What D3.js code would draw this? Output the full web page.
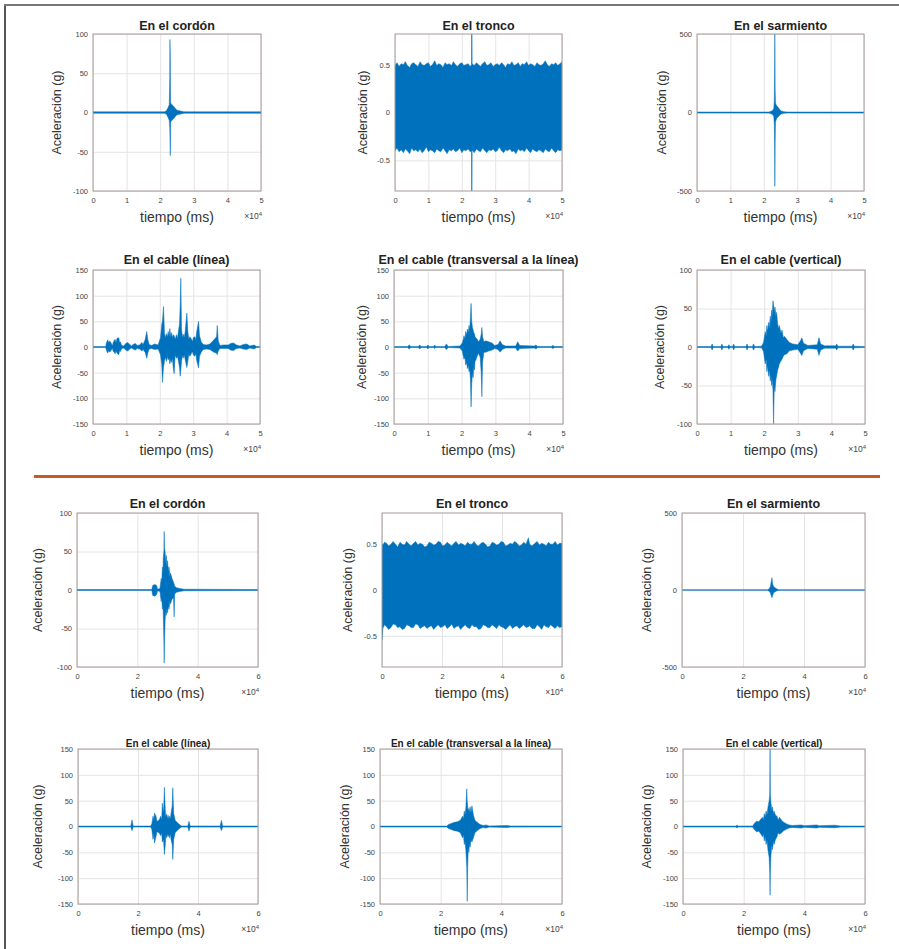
<!DOCTYPE html>
<html><head><meta charset="utf-8">
<script src="https://cdn.jsdelivr.net/npm/d3@7"></script>
<style>body{margin:0;background:#fff}svg{display:block}</style>
</head><body>
<svg id="c" width="899" height="949"></svg>
<script>
// ---------- DATA (envelopes [t(x1e4 ms), max g, min g]) ----------
const titles = ["En el cordón","En el tronco","En el sarmiento",
  "En el cable (línea)","En el cable (transversal a la línea)","En el cable (vertical)",
  "En el cordón","En el tronco","En el sarmiento",
  "En el cable (línea)","En el cable (transversal a la línea)","En el cable (vertical)"];
const xLabel = "tiempo (ms)";
const yLabel = "Aceleración (g)";
const xTicks5 = [0,1,2,3,4,5];
const xTicks6 = [0,2,4,6];
const yTicks100 = [-100,-50,0,50,100];
const yTicks150 = [-150,-100,-50,0,50,100,150];
const yTicks500 = [-500,0,500];
const yTicksTr = [-0.5,0,0.5];

const envCordon1 = [[0,0.8,-0.8],[2.12,0.8,-0.8],[2.18,2,-2],[2.22,5,-5],[2.25,8,-8],[2.27,10,-10],[2.285,45,-20],[2.29,93,-30],[2.3,70,-55],[2.305,30,-45],[2.31,12,-12],[2.35,10,-10],[2.4,8,-8],[2.45,5,-5],[2.5,3,-3],[2.6,2,-2],[2.7,1,-1],[2.8,0.8,-0.8],[5,0.8,-0.8]];
const envTronco1 = [[0,0.49,-0.40],[0.06,0.52,-0.37],[0.12,0.48,-0.41],[0.19,0.51,-0.39],[0.25,0.50,-0.42],[0.31,0.53,-0.38],[0.37,0.49,-0.40],[0.44,0.47,-0.43],[0.5,0.51,-0.37],[0.56,0.52,-0.40],[0.62,0.50,-0.39],[0.69,0.48,-0.41],[0.75,0.53,-0.38],[0.81,0.50,-0.42],[0.87,0.49,-0.40],[0.94,0.51,-0.36],[1.0,0.52,-0.41],[1.06,0.48,-0.39],[1.12,0.50,-0.40],[1.19,0.54,-0.42],[1.25,0.49,-0.38],[1.31,0.51,-0.40],[1.37,0.50,-0.41],[1.44,0.47,-0.37],[1.5,0.52,-0.40],[1.56,0.50,-0.43],[1.62,0.51,-0.39],[1.69,0.49,-0.40],[1.75,0.53,-0.38],[1.81,0.50,-0.41],[1.87,0.48,-0.40],[1.94,0.51,-0.37],[2.0,0.52,-0.42],[2.06,0.49,-0.39],[2.12,0.50,-0.40],[2.19,0.51,-0.38],[2.25,0.48,-0.41],[2.29,0.50,-0.40],[2.295,0.9,-0.9],[2.305,0.9,-0.9],[2.31,0.51,-0.39],[2.37,0.49,-0.42],[2.44,0.52,-0.38],[2.5,0.50,-0.40],[2.56,0.48,-0.41],[2.62,0.51,-0.37],[2.69,0.53,-0.40],[2.75,0.49,-0.42],[2.81,0.50,-0.39],[2.87,0.52,-0.40],[2.94,0.48,-0.38],[3.0,0.50,-0.41],[3.06,0.51,-0.40],[3.12,0.49,-0.36],[3.19,0.52,-0.40],[3.25,0.50,-0.42],[3.31,0.47,-0.39],[3.37,0.51,-0.40],[3.44,0.50,-0.38],[3.5,0.53,-0.41],[3.56,0.49,-0.40],[3.62,0.50,-0.43],[3.69,0.52,-0.38],[3.75,0.48,-0.40],[3.81,0.51,-0.39],[3.87,0.50,-0.41],[3.94,0.53,-0.37],[4.0,0.49,-0.40],[4.06,0.51,-0.42],[4.12,0.50,-0.38],[4.19,0.48,-0.40],[4.25,0.52,-0.41],[4.31,0.50,-0.39],[4.37,0.49,-0.40],[4.44,0.51,-0.42],[4.5,0.54,-0.38],[4.56,0.50,-0.40],[4.62,0.48,-0.41],[4.69,0.51,-0.37],[4.75,0.50,-0.40],[4.81,0.52,-0.42],[4.87,0.49,-0.39],[4.94,0.51,-0.40],[5.0,0.53,-0.39]];
const envSarm1 = [[0,3,-3],[2.15,3,-3],[2.22,8,-8],[2.27,15,-15],[2.3,25,-25],[2.315,80,-80],[2.325,300,-250],[2.33,520,-470],[2.335,400,-400],[2.34,150,-200],[2.35,60,-60],[2.38,45,-40],[2.42,35,-30],[2.47,20,-18],[2.52,10,-10],[2.6,5,-5],[2.7,3,-3],[5,3,-3]];
const envCableL1 = [[0,0.8,-0.8],[0.38,0.8,-0.8],[0.4,8,-6],[0.44,14,-12],[0.47,8,-7],[0.5,12,-10],[0.55,7,-6],[0.58,2,-2],[0.6,8,-8],[0.63,12,-10],[0.66,15,-13],[0.69,9,-8],[0.72,17,-12],[0.77,18,-15],[0.8,9,-7],[0.82,10,-9],[0.86,3,-3],[0.92,2,-2],[0.98,7,-6],[1.04,9,-8],[1.1,5,-4],[1.15,2,-2],[1.2,5,-4],[1.27,7,-6],[1.32,3,-3],[1.4,4,-4],[1.46,9,-8],[1.5,5,-5],[1.56,14,-10],[1.61,30,-22],[1.64,15,-12],[1.68,5,-4],[1.75,3,-3],[1.85,6,-5],[1.95,4,-4],[2.02,18,-15],[2.06,45,-35],[2.08,50,-69],[2.11,79,-40],[2.14,28,-28],[2.17,18,-20],[2.2,26,-28],[2.23,20,-18],[2.25,30,-25],[2.28,22,-22],[2.3,36,-33],[2.33,20,-24],[2.35,28,-30],[2.38,18,-22],[2.4,24,-40],[2.43,22,-52],[2.46,15,-16],[2.5,24,-22],[2.53,16,-18],[2.55,28,-25],[2.59,45,-40],[2.61,80,-57],[2.63,134,-45],[2.65,35,-28],[2.68,18,-16],[2.7,25,-22],[2.73,18,-15],[2.76,30,-25],[2.81,66,-40],[2.84,30,-28],[2.87,15,-14],[2.9,20,-18],[2.95,15,-12],[2.98,10,-9],[3.0,18,-15],[3.05,20,-18],[3.08,14,-12],[3.1,28,-25],[3.16,50,-41],[3.19,22,-18],[3.24,10,-10],[3.3,5,-5],[3.4,4,-4],[3.5,6,-5],[3.62,14,-10],[3.7,20,-12],[3.72,42,-15],[3.75,12,-8],[3.8,3,-3],[3.9,4,-3],[4.05,4,-3],[4.12,7,-6],[4.2,8,-7],[4.3,4,-3],[4.4,2,-2],[4.5,5,-4],[4.6,6,-5],[4.7,2,-2],[4.82,4,-4],[4.9,1,-1],[5,0.8,-0.8]];
const envCableT1 = [[0,0.8,-0.8],[0.4,0.8,-0.8],[0.45,4,-4],[0.5,1,-1],[0.72,1,-1],[0.76,4,-4],[0.8,1,-1],[0.97,1,-1],[1.0,4,-4],[1.04,1,-1],[1.17,1,-1],[1.2,4,-3],[1.24,1,-1],[1.5,1,-1],[1.55,6,-5],[1.6,1,-1],[1.95,2,-2],[2.02,8,-8],[2.05,15,-18],[2.07,22,-24],[2.1,16,-20],[2.12,30,-35],[2.15,24,-30],[2.17,35,-42],[2.2,28,-36],[2.22,42,-48],[2.24,34,-44],[2.26,55,-62],[2.28,85,-117],[2.3,50,-72],[2.32,38,-52],[2.34,34,-60],[2.36,28,-40],[2.38,26,-45],[2.4,20,-28],[2.42,18,-26],[2.46,15,-18],[2.5,10,-12],[2.55,15,-20],[2.58,25,-50],[2.6,38,-97],[2.62,20,-30],[2.66,10,-10],[2.72,12,-10],[2.8,10,-8],[2.9,8,-6],[2.98,3,-3],[3.08,5,-5],[3.14,12,-10],[3.2,5,-5],[3.3,2,-2],[3.6,2,-2],[3.66,10,-8],[3.72,3,-3],[4.15,2,-2],[4.2,4,-4],[4.25,1,-1],[4.65,1,-1],[4.7,3,-3],[4.75,1,-1],[5,0.8,-0.8]];
const envCableV1 = [[0,0.6,-0.6],[0.42,0.6,-0.6],[0.45,4,-4],[0.48,0.6,-0.6],[0.71,0.6,-0.6],[0.74,4,-4],[0.77,0.6,-0.6],[0.92,0.6,-0.6],[0.95,3,-3],[0.98,0.6,-0.6],[1.06,0.6,-0.6],[1.09,4,-4],[1.12,0.6,-0.6],[1.46,0.6,-0.6],[1.49,4,-4],[1.52,0.6,-0.6],[1.65,0.6,-0.6],[1.68,4,-4],[1.72,0.6,-0.6],[1.92,1,-1],[1.98,6,-6],[2.03,20,-22],[2.06,14,-16],[2.08,28,-32],[2.1,20,-24],[2.13,32,-38],[2.15,24,-30],[2.18,40,-44],[2.2,30,-36],[2.22,48,-50],[2.24,40,-42],[2.26,60,-55],[2.28,55,-100],[2.3,45,-50],[2.32,52,-58],[2.35,40,-42],[2.37,45,-38],[2.4,30,-30],[2.43,24,-26],[2.45,28,-22],[2.5,18,-18],[2.53,22,-16],[2.57,12,-12],[2.6,14,-10],[2.67,10,-9],[2.75,6,-5],[2.85,4,-4],[3.0,3,-3],[3.08,8,-8],[3.12,12,-11],[3.17,5,-5],[3.3,2,-2],[3.58,3,-3],[3.63,12,-11],[3.68,4,-4],[3.8,1.5,-1.5],[4.13,1.5,-1.5],[4.16,4,-4],[4.19,1,-1],[4.62,1,-1],[4.65,4,-4],[4.68,1,-1],[5,0.6,-0.6]];
const envCordon2 = [[0,0.6,-0.6],[2.48,0.6,-0.6],[2.51,6,-7],[2.58,7,-8],[2.64,6,-6],[2.67,1,-1],[2.75,2,-2],[2.79,15,-15],[2.81,10,-10],[2.83,30,-25],[2.85,22,-20],[2.86,42,-32],[2.88,50,-67],[2.89,76,-95],[2.9,55,-70],[2.92,50,-40],[2.94,35,-28],[2.96,45,-33],[2.98,30,-24],[3.0,38,-30],[3.03,24,-20],[3.05,30,-25],[3.08,18,-15],[3.1,22,-18],[3.15,15,-12],[3.2,10,-10],[3.22,8,-35],[3.24,5,-5],[3.3,3,-3],[3.4,2,-2],[3.55,1,-1],[6,0.6,-0.6]];
const envTronco2 = [[0,0.50,-0.55],[0.03,0.49,-0.42],[0.08,0.52,-0.38],[0.15,0.51,-0.40],[0.22,0.48,-0.43],[0.3,0.50,-0.41],[0.37,0.53,-0.37],[0.45,0.50,-0.38],[0.52,0.47,-0.41],[0.6,0.52,-0.40],[0.67,0.50,-0.43],[0.75,0.49,-0.42],[0.82,0.53,-0.38],[0.9,0.50,-0.39],[0.97,0.48,-0.41],[1.05,0.51,-0.41],[1.12,0.53,-0.37],[1.2,0.49,-0.38],[1.27,0.51,-0.42],[1.35,0.50,-0.40],[1.42,0.47,-0.39],[1.5,0.48,-0.42],[1.57,0.52,-0.40],[1.65,0.51,-0.39],[1.72,0.49,-0.43],[1.8,0.50,-0.40],[1.87,0.53,-0.38],[1.95,0.52,-0.41],[2.02,0.48,-0.40],[2.1,0.49,-0.38],[2.17,0.52,-0.42],[2.25,0.50,-0.40],[2.32,0.48,-0.37],[2.4,0.51,-0.42],[2.47,0.53,-0.40],[2.55,0.49,-0.39],[2.62,0.51,-0.43],[2.7,0.50,-0.40],[2.77,0.48,-0.38],[2.85,0.52,-0.41],[2.92,0.50,-0.42],[3.0,0.50,-0.38],[3.07,0.53,-0.40],[3.15,0.49,-0.40],[3.22,0.48,-0.43],[3.3,0.51,-0.42],[3.37,0.52,-0.38],[3.45,0.50,-0.39],[3.52,0.47,-0.41],[3.6,0.48,-0.41],[3.67,0.52,-0.38],[3.75,0.51,-0.40],[3.82,0.49,-0.42],[3.9,0.50,-0.38],[3.97,0.53,-0.40],[4.05,0.52,-0.41],[4.12,0.48,-0.43],[4.2,0.49,-0.40],[4.27,0.51,-0.38],[4.35,0.50,-0.42],[4.42,0.53,-0.40],[4.5,0.51,-0.39],[4.57,0.48,-0.42],[4.65,0.49,-0.40],[4.72,0.52,-0.38],[4.8,0.50,-0.41],[4.88,0.57,-0.40],[4.92,0.50,-0.39],[5.0,0.48,-0.42],[5.1,0.51,-0.42],[5.17,0.53,-0.38],[5.25,0.49,-0.40],[5.32,0.51,-0.43],[5.4,0.50,-0.38],[5.47,0.48,-0.40],[5.55,0.52,-0.41],[5.62,0.50,-0.38],[5.7,0.50,-0.40],[5.77,0.53,-0.42],[5.85,0.49,-0.39],[5.92,0.51,-0.41],[6.0,0.51,-0.40]];
const envSarm2 = [[0,2,-2],[2.8,2,-2],[2.86,8,-8],[2.9,25,-20],[2.93,60,-40],[2.95,80,-50],[2.97,40,-35],[3.0,25,-20],[3.05,15,-12],[3.1,8,-6],[3.15,3,-3],[3.2,2,-2],[6,2,-2]];
const envCableL2 = [[0,0.8,-0.8],[1.76,0.8,-0.8],[1.8,13,-8],[1.84,0.8,-0.8],[2.42,1,-1],[2.46,5,-5],[2.5,20,-25],[2.53,12,-14],[2.55,26,-32],[2.6,20,-20],[2.63,10,-10],[2.7,12,-12],[2.76,20,-18],[2.79,12,-12],[2.81,45,-30],[2.85,25,-25],[2.88,76,-54],[2.91,30,-35],[2.93,18,-16],[2.95,24,-22],[2.98,15,-14],[3.0,22,-20],[3.03,14,-15],[3.05,20,-22],[3.08,15,-14],[3.1,25,-25],[3.14,40,-35],[3.16,75,-64],[3.19,25,-25],[3.24,12,-12],[3.3,8,-8],[3.38,4,-4],[3.45,1,-1],[3.66,1,-1],[3.7,10,-9],[3.74,1,-1],[4.74,1,-1],[4.78,12,-8],[4.82,1,-1],[6,0.8,-0.8]];
const envCableT2 = [[0,0.8,-0.8],[2.2,0.8,-0.8],[2.26,4,-4],[2.35,6,-6],[2.45,8,-8],[2.55,9,-9],[2.65,12,-12],[2.72,20,-22],[2.75,15,-16],[2.78,30,-35],[2.8,22,-28],[2.83,35,-45],[2.86,73,-80],[2.875,50,-145],[2.89,40,-80],[2.91,28,-40],[2.93,35,-50],[2.95,28,-34],[2.97,38,-40],[3.0,26,-26],[3.03,40,-30],[3.08,22,-22],[3.13,12,-12],[3.2,8,-8],[3.3,4,-4],[3.4,2,-2],[3.5,3,-3],[3.6,1,-1],[4.2,2,-2],[4.3,1,-1],[6,0.8,-0.8]];
const envCableV2 = [[0,0.8,-0.8],[1.75,0.8,-0.8],[1.78,3,-3],[1.81,0.8,-0.8],[2.3,1,-1],[2.35,6,-6],[2.42,10,-10],[2.5,9,-9],[2.56,14,-14],[2.62,18,-20],[2.65,12,-14],[2.68,25,-28],[2.71,18,-20],[2.74,30,-35],[2.77,22,-26],[2.8,37,-45],[2.84,50,-60],[2.86,63,-90],[2.87,153,-133],[2.88,63,-90],[2.9,45,-55],[2.93,30,-36],[2.95,38,-45],[2.98,24,-28],[3.0,30,-35],[3.05,22,-25],[3.1,20,-20],[3.14,12,-12],[3.18,18,-15],[3.25,12,-12],[3.32,8,-8],[3.42,5,-5],[3.5,3,-3],[3.6,2,-2],[3.9,3,-3],[4.0,1.5,-1.5],[4.4,3,-3],[4.5,1.5,-1.5],[5.0,2.5,-2.5],[5.2,1,-1],[6,0.8,-0.8]];

const envelopes = [envCordon1, envTronco1, envSarm1, envCableL1, envCableT1, envCableV1,
                   envCordon2, envTronco2, envSarm2, envCableL2, envCableT2, envCableV2];
const yDomains = [[-100,100],[-0.82,0.82],[-500,500],[-150,150],[-150,150],[-100,100],
                  [-100,100],[-0.84,0.84],[-500,500],[-150,150],[-150,150],[-150,150]];
const yTickSets = [yTicks100,yTicksTr,yTicks500,yTicks150,yTicks150,yTicks100,
                   yTicks100,yTicksTr,yTicks500,yTicks150,yTicks150,yTicks150];
const xMax = [5,5,5,5,5,5,6,6,6,6,6,6];
const xTickSets = [xTicks5,xTicks5,xTicks5,xTicks5,xTicks5,xTicks5,xTicks6,xTicks6,xTicks6,xTicks6,xTicks6,xTicks6];

// ---------- LAYOUT ----------
const layout = [
  {x0:93,x1:261,y0:34,y1:191,yl:57,tb:30,ts:12.5},
  {x0:395,x1:562,y0:34,y1:191,yl:363,tb:30,ts:12.5},
  {x0:697,x1:864,y0:34,y1:191,yl:662,tb:30,ts:12.5},
  {x0:93,x1:260,y0:270,y1:424,yl:57,tb:264,ts:12.5},
  {x0:394,x1:563,y0:270,y1:424,yl:362,tb:264,ts:12.5},
  {x0:697,x1:865,y0:270,y1:424,yl:660,tb:264,ts:12.5},
  {x0:77,x1:258,y0:513,y1:667,yl:38,tb:507.5,ts:12.5},
  {x0:382,x1:562,y0:513,y1:667,yl:348,tb:507.5,ts:12.5},
  {x0:682,x1:865,y0:513,y1:667,yl:647,tb:507.5,ts:12.5},
  {x0:78,x1:258,y0:749,y1:904,yl:38,tb:746.5,ts:10},
  {x0:380,x1:562,y0:749,y1:904,yl:345,tb:746.5,ts:10},
  {x0:683,x1:865,y0:749,y1:904,yl:647,tb:746.5,ts:10}
];

const FONT = "'Liberation Sans', Arial, Helvetica, sans-serif";
const BLUE = "#0072bd";
const svg = d3.select("#c");

// frame
svg.append("line").attr("x1",5).attr("y1",4).attr("x2",5).attr("y2",949).attr("stroke","#555").attr("stroke-width",2);
svg.append("line").attr("x1",4).attr("y1",5).attr("x2",899).attr("y2",5).attr("stroke","#777").attr("stroke-width",2);
// separator
svg.append("line").attr("x1",34).attr("y1",476.5).attr("x2",880).attr("y2",476.5).attr("stroke","#c65a24").attr("stroke-width",3);

envelopes.forEach((env,i)=>{
  const L = layout[i];
  const x = d3.scaleLinear().domain([0,xMax[i]]).range([L.x0,L.x1]);
  const y = d3.scaleLinear().domain(yDomains[i]).range([L.y1,L.y0]);
  const g = svg.append("g");
  const h = L.y1-L.y0, w = L.x1-L.x0;

  // grid
  g.append("g").attr("transform",`translate(0,${L.y1})`)
    .call(d3.axisBottom(x).tickValues(xTickSets[i]).tickSize(-h).tickFormat(""))
    .call(s=>{s.select(".domain").remove();s.selectAll("line").attr("stroke","#e4e4e4");});
  g.append("g").attr("transform",`translate(${L.x0},0)`)
    .call(d3.axisLeft(y).tickValues(yTickSets[i]).tickSize(-w).tickFormat(""))
    .call(s=>{s.select(".domain").remove();s.selectAll("line").attr("stroke","#e4e4e4");});

  // signal envelope
  const cid = "clip"+i;
  g.append("clipPath").attr("id",cid).append("rect")
    .attr("x",L.x0).attr("y",L.y0).attr("width",w).attr("height",h);
  const area = d3.area().x(d=>x(d[0])).y0(d=>y(d[2])).y1(d=>y(d[1]));
  g.append("path").datum(env).attr("clip-path",`url(#${cid})`)
    .attr("d",area).attr("fill",BLUE).attr("stroke",BLUE).attr("stroke-width",0.5);

  // box
  g.append("rect").attr("x",L.x0).attr("y",L.y0).attr("width",w).attr("height",h)
    .attr("fill","none").attr("stroke","#a59a97").attr("stroke-width",1);

  // tick labels
  g.append("g").attr("transform",`translate(0,${L.y1})`)
    .call(d3.axisBottom(x).tickValues(xTickSets[i]).tickSize(0).tickPadding(7).tickFormat(d=>String(d)))
    .call(s=>{s.select(".domain").remove();s.attr("font-family",FONT).attr("font-size",7.5);s.selectAll("text").attr("fill","#444");});
  g.append("g").attr("transform",`translate(${L.x0},0)`)
    .call(d3.axisLeft(y).tickValues(yTickSets[i]).tickSize(0).tickPadding(5).tickFormat(d=>String(d)))
    .call(s=>{s.select(".domain").remove();s.attr("font-family",FONT).attr("font-size",7.5);s.selectAll("text").attr("fill","#444");});

  // title
  g.append("text").attr("x",(L.x0+L.x1)/2).attr("y",L.tb).attr("text-anchor","middle")
    .attr("font-family",FONT).attr("font-weight","bold").attr("font-size",L.ts).attr("fill","#222").text(titles[i]);
  // x label
  g.append("text").attr("x",(L.x0+L.x1)/2).attr("y",L.y1+30.5).attr("text-anchor","middle")
    .attr("font-family",FONT).attr("font-size",14).attr("fill","#333").text(xLabel);
  // exponent
  const ex = g.append("text").attr("x",L.x1+1).attr("y",L.y1+28).attr("text-anchor","end")
    .attr("font-family",FONT).attr("font-size",8.5).attr("fill","#444");
  ex.append("tspan").text("×10");
  ex.append("tspan").attr("dy",-3.5).attr("font-size",6).text("4");
  // y label
  g.append("text").attr("transform",`translate(${L.yl},${(L.y0+L.y1)/2}) rotate(-90)`)
    .attr("text-anchor","middle").attr("dominant-baseline","central")
    .attr("font-family",FONT).attr("font-size",12.5).attr("fill","#333").text(yLabel);
});
</script>
</body></html>
